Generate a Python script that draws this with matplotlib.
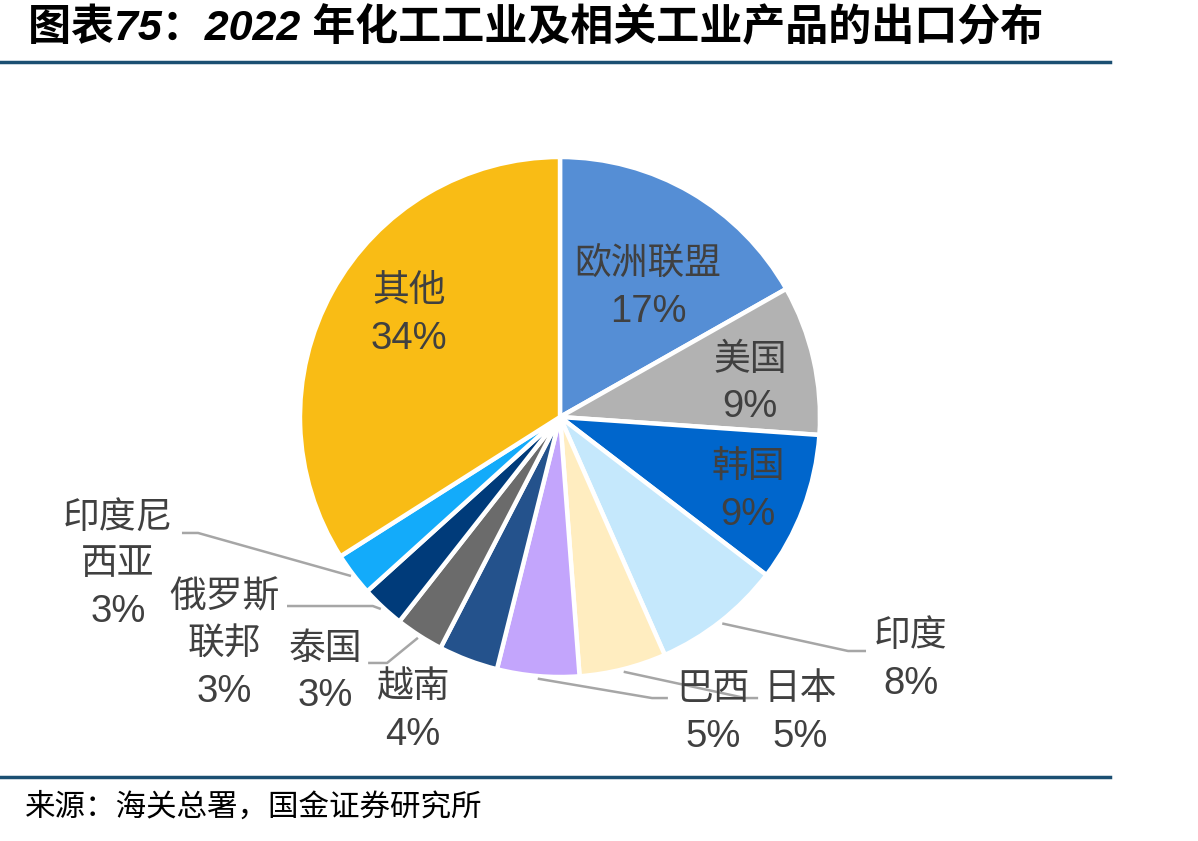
import numpy as np
import matplotlib
matplotlib.use('Agg')
import matplotlib.pyplot as plt
from matplotlib.lines import Line2D

plt.rcParams['font.family'] = ['Liberation Sans', 'Noto Sans CJK SC', 'DejaVu Sans']

# data (clockwise from 12 o'clock)
countries = ['欧洲联盟', '美国', '韩国', '印度', '日本', '巴西', '越南', '泰国',
             '俄罗斯\n联邦', '印度尼\n西亚', '其他']
shares = [16.8, 9.3, 9.3, 8.0, 5.4, 5.1, 3.7, 3.0, 2.7, 2.7, 34.0]
colors = ['#558ED5', '#B2B2B2', '#0066CC', '#C5E8FC', '#FFEDC0', '#C3A5FC',
          '#24528C', '#6B6B6B', '#003B7A', '#13ABFA', '#F9BC15']

title = '图表75：2022 年化工工业及相关工业产品的出口分布'
source = '来源：海关总署，国金证券研究所'

# label layout in pie units (radius = 1): first line centre, and leader elbow/end (None = inside label)
label_pos = [(0.338, 0.585), (0.731, 0.219), (0.723, -0.196), (1.35, -0.846),
             (0.923, -1.05), (0.588, -1.05), (-0.565, -1.042), (-0.904, -0.894),
             (-1.292, -0.696), (-1.70, -0.388), (-0.581, 0.481)]
leaders = [None, None, None,
           ((1.108, -0.90), (1.177, -0.90)),
           ((0.712, -1.081), (0.762, -1.081)),
           ((0.354, -1.081), (0.415, -1.081)),
           None,
           ((-0.665, -0.946), (-0.738, -0.946)),
           ((-0.72, -0.727), (-1.05, -0.727)),
           ((-1.392, -0.446), (-1.454, -0.446)),
           None]
line_step = 0.181

W, H = 1198, 841
fig = plt.figure(figsize=(W / 100, H / 100), dpi=100)

cx, cy, r = 560, 417, 260
ax = fig.add_axes([(cx - r) / W, (H - cy - r) / H, 2 * r / W, 2 * r / H])
wedges, _ = ax.pie(shares, colors=colors, startangle=90, counterclock=False,
                   radius=1.0, wedgeprops=dict(edgecolor='white', linewidth=3.2))
ax.set_xlim(-1, 1)
ax.set_ylim(-1, 1)
ax.set_aspect('equal')
ax.axis('off')

text_color = '#404040'
for w, name, val, pos, ld in zip(wedges, countries, shares, label_pos, leaders):
    lines = name.split('\n') + [f'{val:.0f}%']
    x0, y0 = pos
    for k, s in enumerate(lines):
        fs = 27.5 if s.endswith('%') else 26.5
        ax.text(x0, y0 - k * line_step, s, ha='center', va='center',
                fontsize=fs, color=text_color, clip_on=False)
    if ld is not None:
        mid = np.deg2rad((w.theta1 + w.theta2) / 2)
        sx, sy = 1.01 * np.cos(mid), 1.01 * np.sin(mid)
        (ex, ey), (tx, ty) = ld
        ax.plot([sx, ex, tx], [sy, ey, ty], color='#A6A6A6', lw=1.8,
                clip_on=False, solid_capstyle='butt')

fig.text(28 / W, 1 - 29 / H, title, fontsize=31, fontweight='bold',
         fontstyle='italic', va='center', ha='left', color='black')
fig.add_artist(Line2D([0, 1110 / W], [1 - 62 / H] * 2, color='#1B4F72', lw=2.5,
                      transform=fig.transFigure))
fig.add_artist(Line2D([0, 1110 / W], [1 - 777 / H] * 2, color='#1B4F72', lw=2.5,
                      transform=fig.transFigure))
fig.text(25 / W, 1 - 808 / H, source, fontsize=22, va='center', ha='left',
         color='black')

fig.savefig('out.png', dpi=100)
